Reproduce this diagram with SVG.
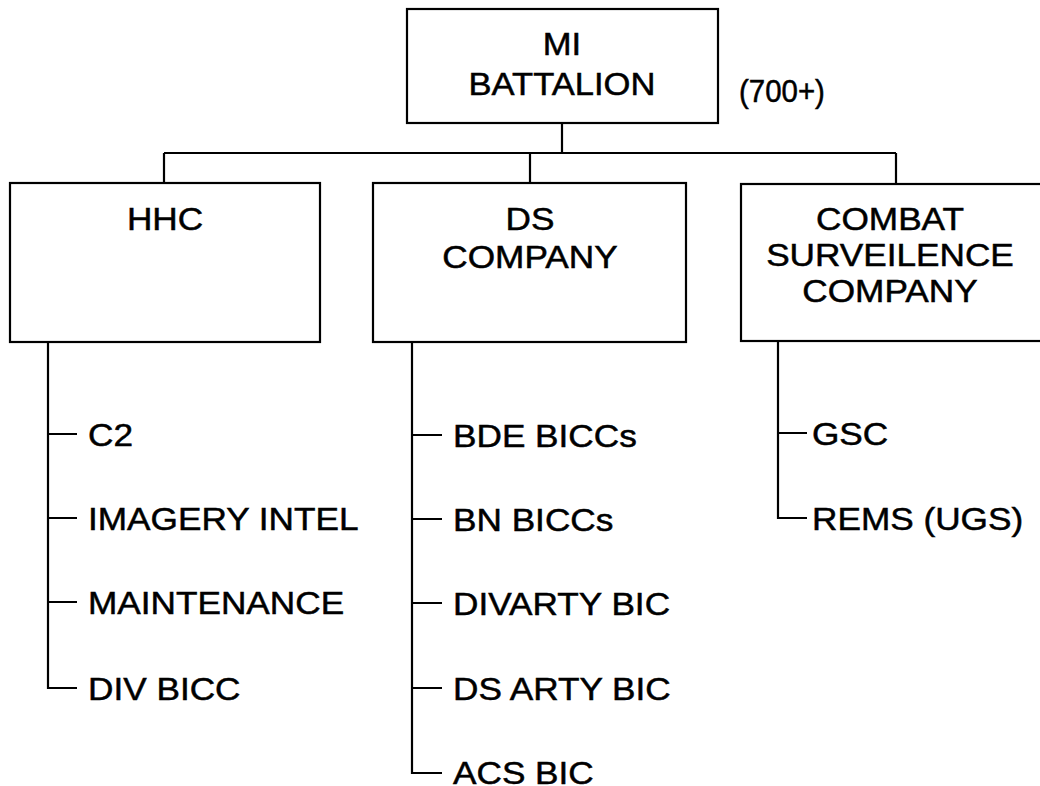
<svg xmlns="http://www.w3.org/2000/svg" width="1040" height="786" viewBox="0 0 1040 786">
<style>
.box{fill:#fff;stroke:#000;stroke-width:2.2}
.ln{fill:none;stroke:#000;stroke-width:2.2}
text{font-family:"Liberation Sans",Arial,sans-serif;font-size:32px;fill:#000;stroke:#000;stroke-width:0.5}
.c{text-anchor:middle}
</style>
<rect width="1040" height="786" fill="#fff"/>
<g id="connectors">
<path class="ln" d="M562,123V153M164,153H896M164,153V183M530,153V183M896,153V184"/>
<path class="ln" d="M48,342V688H77M48,434H77M48,518H77M48,602H77"/>
<path class="ln" d="M412,342V773H442M412,435H442M412,519H442M412,603H442M412,688H442"/>
<path class="ln" d="M778,341V518H807M778,433H807"/>
</g>
<g id="mi-battalion">
<rect class="box" x="407" y="9" width="311" height="114"/>
<text class="c" transform="translate(562,55) scale(1.08,1)">MI</text>
<text class="c" transform="translate(562,95) scale(1.08,1)">BATTALION</text>
</g>
<g id="strength"><text transform="translate(739,102) scale(0.95,1)" style="font-size:31px">(700+)</text></g>
<g id="hhc">
<rect class="box" x="10" y="183" width="310" height="159"/>
<text class="c" transform="translate(165,230) scale(1.1,1)">HHC</text>
</g>
<g id="ds-company">
<rect class="box" x="373" y="183" width="313" height="159"/>
<text class="c" transform="translate(530,230) scale(1.1,1)">DS</text>
<text class="c" transform="translate(530,268) scale(1.1,1)">COMPANY</text>
</g>
<g id="combat">
<rect class="box" x="741" y="184" width="310" height="157"/>
<text class="c" transform="translate(890,230) scale(1.1,1)">COMBAT</text>
<text class="c" transform="translate(890,266) scale(1.1,1)">SURVEILENCE</text>
<text class="c" transform="translate(890,302) scale(1.1,1)">COMPANY</text>
</g>
<g id="hhc-items">
<text transform="translate(88,446) scale(1.1,1)">C2</text>
<text transform="translate(88,530) scale(1.1,1)">IMAGERY INTEL</text>
<text transform="translate(88,614) scale(1.1,1)">MAINTENANCE</text>
<text transform="translate(88,700) scale(1.1,1)">DIV BICC</text>
</g>
<g id="ds-items">
<text transform="translate(453,447) scale(1.1,1)">BDE BICCs</text>
<text transform="translate(453,531) scale(1.1,1)">BN BICCs</text>
<text transform="translate(453,615) scale(1.1,1)">DIVARTY BIC</text>
<text transform="translate(453,700) scale(1.1,1)">DS ARTY BIC</text>
<text transform="translate(453,784) scale(1.1,1)">ACS BIC</text>
</g>
<g id="combat-items">
<text transform="translate(812,445) scale(1.1,1)">GSC</text>
<text transform="translate(812,530) scale(1.1,1)">REMS (UGS)</text>
</g>
</svg>
